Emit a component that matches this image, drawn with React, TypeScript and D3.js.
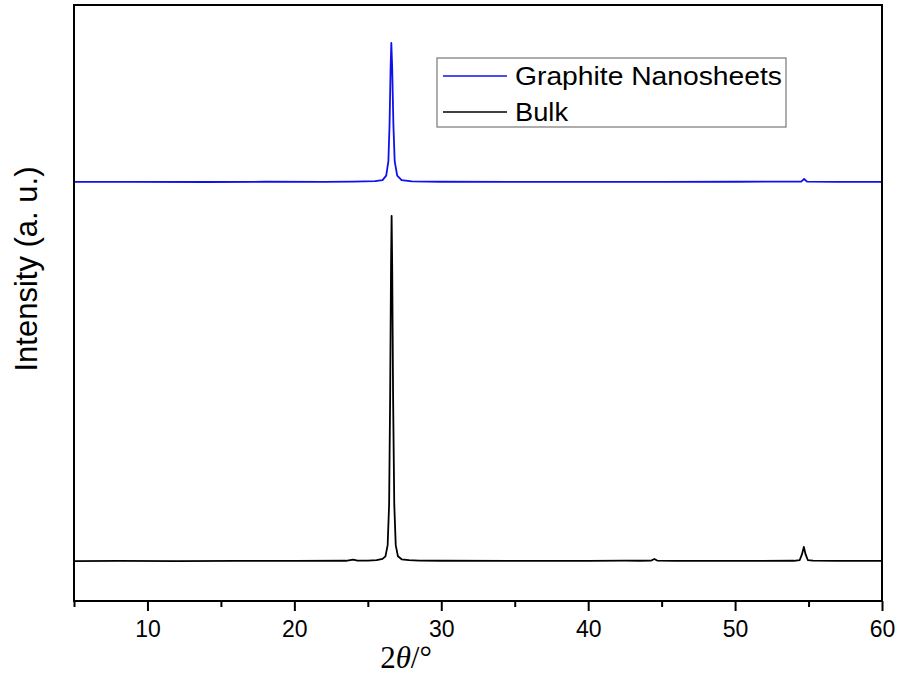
import React, { useEffect, useRef } from 'react';
import * as d3 from 'd3';

// 2theta (deg), intensity (counts, arbitrary)
const bulkTheta = [5, 8, 12, 16, 20, 23.5, 24.0, 24.3, 25.0, 25.6, 26.0, 26.2, 26.35, 26.45, 26.52, 26.58, 26.62, 26.66, 26.72, 26.8, 26.9, 27.05, 27.3, 27.8, 28.5, 30, 35, 40, 42.5, 43.5, 44.3, 44.5, 44.7, 46, 50, 54, 54.4, 54.55, 54.68, 54.8, 54.95, 55.3, 57, 60];
const bulkCounts = [1070, 1075, 1072, 1078, 1076, 1080, 1110, 1082, 1085, 1095, 1130, 1200, 1500, 2600, 5500, 9000, 10340, 9000, 5500, 2600, 1500, 1200, 1120, 1095, 1085, 1080, 1078, 1076, 1085, 1080, 1085, 1130, 1085, 1078, 1075, 1080, 1100, 1250, 1450, 1250, 1100, 1082, 1078, 1075];

const nanoTheta = [5, 9, 14, 18, 22, 24, 25.5, 26.0, 26.25, 26.4, 26.48, 26.55, 26.6, 26.66, 26.74, 26.83, 27.0, 27.3, 28, 30, 35, 40, 45, 50, 54.5, 54.7, 54.9, 57, 60];
const nanoCounts = [11250, 11252, 11248, 11255, 11250, 11258, 11270, 11300, 11420, 11800, 12800, 14300, 14980, 14300, 12800, 11800, 11420, 11300, 11265, 11255, 11250, 11252, 11250, 11255, 11260, 11330, 11260, 11252, 11250];

const xMajor = [10, 20, 30, 40, 50, 60];
const xMinor = [5, 15, 25, 35, 45, 55];

const seriesNames = ['Graphite Nanosheets', 'Bulk'];
const seriesColors = ['#1010ee', '#000000'];
const legendWidths = [267, 53];

const sans = 'Arial, "Liberation Sans", sans-serif';

const App = () => {
  const ref = useRef<SVGSVGElement>(null);

  useEffect(() => {
    const svg = d3.select(ref.current);
    svg.selectAll('*').remove();

    const left = 74, right = 882, top = 5, bottom = 601;
    const x = d3.scaleLinear().domain([5, 60]).range([left, right]);
    const y = d3.scaleLinear().domain([0, 16000]).range([bottom, top]);

    const line = d3
      .line<[number, number]>()
      .x((d) => x(d[0]))
      .y((d) => y(d[1]));

    const nano = nanoTheta.map((t, i) => [t, nanoCounts[i]] as [number, number]);
    const bulk = bulkTheta.map((t, i) => [t, bulkCounts[i]] as [number, number]);

    [nano, bulk].forEach((data, i) => {
      svg
        .append('path')
        .datum(data)
        .attr('fill', 'none')
        .attr('stroke', seriesColors[i])
        .attr('stroke-width', 1.8)
        .attr('stroke-linejoin', 'round')
        .attr('d', line);
    });

    // frame
    svg
      .append('rect')
      .attr('x', left)
      .attr('y', top)
      .attr('width', right - left)
      .attr('height', bottom - top)
      .attr('fill', 'none')
      .attr('stroke', '#000')
      .attr('stroke-width', 2);

    const major = svg
      .append('g')
      .attr('transform', `translate(0,${bottom})`)
      .call(d3.axisBottom(x).tickValues(xMajor).tickSize(10).tickPadding(10).tickSizeOuter(0));
    major.select('.domain').remove();
    major.selectAll('line').attr('stroke-width', 2);
    major
      .selectAll('text')
      .attr('font-family', sans)
      .attr('font-size', 23)
      .attr('fill', '#000');

    const minor = svg
      .append('g')
      .attr('transform', `translate(0,${bottom})`)
      .call(d3.axisBottom(x).tickValues(xMinor).tickSize(6).tickFormat(() => '').tickSizeOuter(0));
    minor.select('.domain').remove();
    minor.selectAll('line').attr('stroke-width', 2);

    // axis titles
    const xt = svg
      .append('text')
      .attr('x', 406)
      .attr('y', 668)
      .attr('text-anchor', 'middle')
      .attr('font-family', '"Liberation Serif", "Times New Roman", serif')
      .attr('font-size', 31)
      .attr('fill', '#000');
    xt.append('tspan').text('2');
    xt.append('tspan').attr('font-style', 'italic').text('θ');
    xt.append('tspan').text('/°');

    svg
      .append('text')
      .attr('transform', `translate(37,269) rotate(-90)`)
      .attr('text-anchor', 'middle')
      .attr('font-family', sans)
      .attr('font-size', 31)
      .attr('fill', '#000')
      .text('Intensity (a. u.)');

    // legend
    const lg = svg.append('g');
    lg.append('rect')
      .attr('x', 437)
      .attr('y', 58)
      .attr('width', 349)
      .attr('height', 69)
      .attr('fill', '#fff')
      .attr('stroke', '#777')
      .attr('stroke-width', 1.2);
    seriesNames.forEach((name, i) => {
      const yy = 76 + i * 36;
      lg.append('line')
        .attr('x1', 443)
        .attr('x2', 507)
        .attr('y1', yy)
        .attr('y2', yy)
        .attr('stroke', seriesColors[i])
        .attr('stroke-width', 1.5);
      lg.append('text')
        .attr('x', 515)
        .attr('y', yy + 9)
        .attr('font-family', sans)
        .attr('font-size', 26)
        .attr('textLength', legendWidths[i])
        .attr('lengthAdjust', 'spacingAndGlyphs')
        .attr('fill', '#000')
        .text(name);
    });
  }, []);

  return (
    <svg
      ref={ref}
      width={900}
      height={679}
      style={{ position: 'absolute', left: 0, top: 0, background: '#fff' }}
    ></svg>
  );
};

export default App;
